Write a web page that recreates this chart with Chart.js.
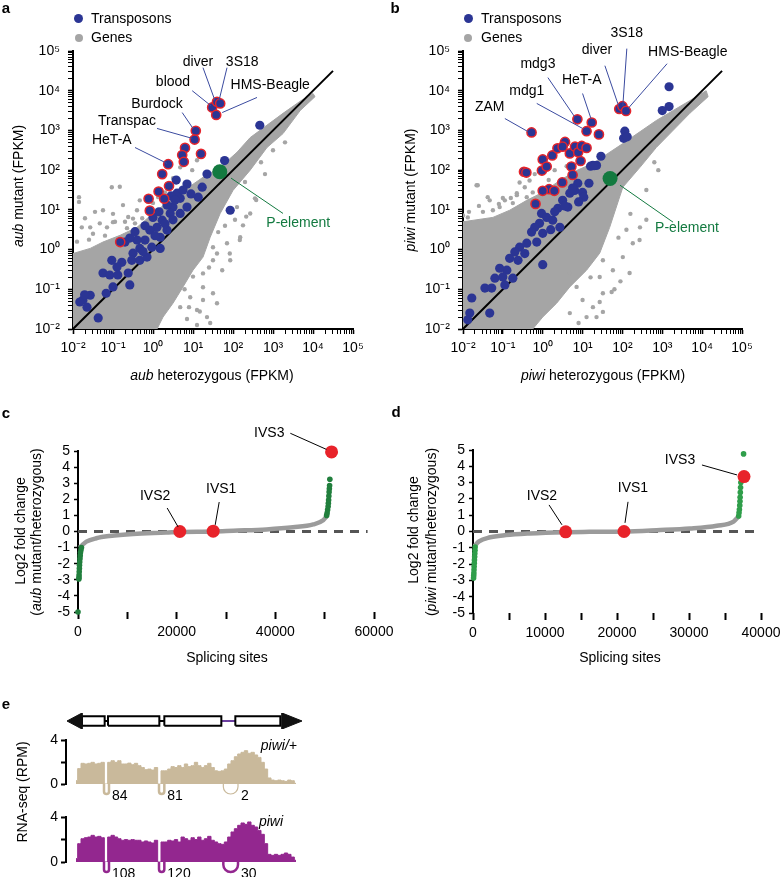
<!DOCTYPE html>
<html>
<head>
<meta charset="utf-8">
<script src="https://cdn.jsdelivr.net/npm/chart.js@4.4.1/dist/chart.umd.min.js"></script>
<style>
  body { margin: 0; width: 781px; height: 877px; position: relative; overflow: hidden; background: #fff;
         font-family: "Liberation Sans", Arial, Helvetica, sans-serif; }
  canvas { position: absolute; }
  .t { position: absolute; font-size: 14px; line-height: 16px; white-space: nowrap; color: #000; transform: translate(-50%, -50%); }
  .v { transform: translate(-50%, -50%) rotate(-90deg); }
  .l { transform: translate(0, -50%); }
  .r { transform: translate(-100%, -50%); }
  .p { font-weight: bold; font-size: 15px; }
  .dot { position: absolute; border-radius: 50%; }
</style>
</head>
<body>
<canvas id="ca" width="390" height="400" style="left:0;top:0"></canvas>
<canvas id="cb" width="391" height="400" style="left:390px;top:0"></canvas>
<canvas id="cc" width="400" height="230" style="left:0;top:420px"></canvas>
<canvas id="cd" width="400" height="230" style="left:390px;top:420px"></canvas>
<canvas id="ge" width="320" height="30" style="left:0;top:706px"></canvas>
<canvas id="t1" width="320" height="82" style="left:0;top:728px"></canvas>
<canvas id="t2" width="320" height="72" style="left:0;top:805px"></canvas>

<!-- panel letters -->
<div class="t p" style="left:6px;top:8px">a</div>
<div class="t p" style="left:395px;top:8px">b</div>
<div class="t p" style="left:6px;top:413px">c</div>
<div class="t p" style="left:396px;top:412px">d</div>
<div class="t p" style="left:6px;top:704px">e</div>

<!-- legends -->
<div class="dot" style="left:74px;top:14px;width:9px;height:9px;background:#2b3594"></div>
<div class="t l" style="left:91px;top:18px">Transposons</div>
<div class="dot" style="left:74.5px;top:33.5px;width:8px;height:8px;background:#a5a5a5"></div>
<div class="t l" style="left:91px;top:37px">Genes</div>
<div class="dot" style="left:463.5px;top:14px;width:9px;height:9px;background:#2b3594"></div>
<div class="t l" style="left:481px;top:18px">Transposons</div>
<div class="dot" style="left:464px;top:33.5px;width:8px;height:8px;background:#a5a5a5"></div>
<div class="t l" style="left:481px;top:37px">Genes</div>

<!-- axis titles -->
<div class="t" style="left:212px;top:375px"><i>aub</i> heterozygous (FPKM)</div>
<div class="t" style="left:603px;top:375px"><i>piwi</i> heterozygous (FPKM)</div>
<div class="t v" style="left:18px;top:186px"><i>aub</i> mutant (FPKM)</div>
<div class="t v" style="left:410px;top:190px"><i>piwi</i> mutant (FPKM)</div>
<div class="t" style="left:227px;top:657px">Splicing sites</div>
<div class="t" style="left:620px;top:657px">Splicing sites</div>
<div class="t v" style="left:20px;top:531px">Log2 fold change</div>
<div class="t v" style="left:36px;top:532px">(<i>aub</i> mutant/heterozygous)</div>
<div class="t v" style="left:413px;top:530px">Log2 fold change</div>
<div class="t v" style="left:431px;top:532px">(<i>piwi</i> mutant/heterozygous)</div>
<div class="t v" style="left:22px;top:792px">RNA-seq (RPM)</div>
<div class="t r" style="left:297px;top:745px"><i>piwi/+</i></div>
<div class="t r" style="left:283px;top:821px"><i>piwi</i></div>

<script>
// ---------- panels a / b : [log10 heterozygous, log10 mutant] FPKM ----------
const aubGeneCloud = [[-2,-2],[-2,-0.1],[-1.57,0.03],[-1.25,0.19],[-0.82,0.36],[-0.4,0.56],[0,0.91],[0.43,1.24],
  [0.85,1.54],[1.25,1.82],[1.68,2.07],[2.1,2.45],[2.43,2.82],[3.25,3.43],[3.7,3.75],[4.0,3.93],[4.05,3.85],
  [3.68,3.5],[3.25,2.92],[2.85,2.57],[2.43,2.0],[2.0,1.49],[1.68,0.91],[1.43,0.31],[1.25,-0.19],[1.0,-0.52],
  [0.75,-0.94],[0.5,-1.35],[0.25,-1.7],[0.1,-2]];
const aubGeneSpots = [[-1.85,1.32],[-1.85,1.2],[-1.03,1.57],[-0.83,1.58],[-1.45,0.95],[-1.25,0.99],[-1.7,0.79],
  [-0.75,1.12],[-0.62,0.82],[-0.4,0.99],[-0.15,1.24],[-0.33,1.24],[0.68,2.07],[0.98,2.0],[1.1,2.25],[-1.78,0.56],
  [-1.15,0.56],[-0.95,0.7],[-0.5,0.78],[0.68,-1.45],[0.93,-1.2],[1.25,-0.95],[1.35,-1.7],[1.5,0.06],[1.63,0.44],
  [1.93,-0.27],[2.25,0.61],[2.43,0.91],[2.55,1.29],[2.1,1.07],[2.3,1.7],[2.0,1.58],[1.0,-0.68],[0.79,-1.0],
  [1.17,-1.56],[1.5,-1.1],[1.92,-0.1],[2.17,0.24],[2.33,0.83],[2.58,1.25],[2.7,2.2],[3.0,2.5],[-1.5,0.4],
  [-1.0,0.9],[0.2,1.5],[0.5,1.8],[-1.57,0.56],[-1.33,0.66],[-1.0,0.69],[-0.65,0.54],[-0.45,0.66],[-0.27,0.79],
  [0.0,1.17],[0.13,1.32],[0.3,1.44],[0.43,1.57],[1.5,-0.27],[1.73,-0.52],[1.25,-1.27],[1.1,-1.52],[1.43,-1.85],
  [1.6,-0.1],[1.85,0.16],[2.18,0.31],[1.25,-0.6],[1.4,-0.45],[0.9,-1.45],[2.05,0.75],[1.8,0.6],[-1.9,0.2],
  [-1.6,0.25],[-1.2,0.35],[-0.7,0.7],[2.8,1.9],[3.3,2.7],[1.6,-1.35],[1.1,-1.9],[0.85,-1.75]];
const aubTransposons = [[2.67,3.13],[1.79,2.24],[1.35,1.9],[1.93,0.99],[0.58,1.75],[0.85,1.65],[1.23,1.57],
  [1.13,1.32],[0.68,1.29],[0.85,1.07],[0.5,1.07],[0.43,0.91],[0.68,0.91],[0.35,1.12],[0.6,1.42],[0.95,1.4],
  [0.45,1.35],[0.75,1.5],[0.0,0.81],[0.23,0.74],[0.1,0.56],[-0.08,0.49],[0.35,0.49],[0.18,0.31],[-0.2,0.24],
  [-0.4,0.24],[-0.58,0.29],[-0.7,0.19],[-0.33,0.03],[-0.03,0.06],[0.18,0.03],[-0.5,-0.09],[-0.53,-0.27],
  [-0.33,-0.27],[-0.15,-0.19],[-1.03,-0.27],[-0.78,-0.32],[-0.9,-0.44],[-1.25,-0.59],[-1.08,-0.64],
  [-0.88,-0.64],[-0.62,-0.59],[-1.0,-0.94],[-0.58,-0.89],[-1.57,-1.15],[-1.75,-1.27],[-1.65,-1.45],
  [-1.83,-1.32],[-1.37,-1.72],[-1.71,-1.14],[-1.17,-1.1],[0.3,0.65],[0.5,0.75],[-0.2,0.6],[0.05,0.35],
  [-0.25,-0.05],[-0.45,0.45],[0.55,1.25],[0.15,0.95]];
const aubTransposonsUp = [[1.48,3.58],[1.6,3.72],[1.68,3.68],[1.58,3.39],[1.07,2.99],[1.04,2.77],[0.8,2.56],
  [0.73,2.38],[0.77,2.21],[1.2,2.41],[0.38,2.15],[0.23,1.9],[0.4,1.6],[0.14,1.46],[0.28,1.28],[-0.11,1.28],
  [-0.08,0.98],[-0.82,0.19]];
const aubPElement = [[1.67,1.96]];

const piwiGeneCloud = [[-2,-2],[-2,0.7],[-1.25,0.81],[-0.83,0.99],[-0.4,1.24],[0,1.44],[0.43,1.74],[0.85,1.99],
  [1.26,2.17],[2.01,2.67],[2.85,3.25],[3.69,3.75],[4.1,4.0],[4.15,3.85],[3.69,3.43],[2.85,2.57],[2.44,2.07],
  [2.01,1.57],[1.68,0.56],[1.43,-0.09],[1.1,-0.52],[0.68,-0.94],[0.35,-1.35],[0,-1.7],[-0.25,-2]];
const piwiGeneSpots = [[-1.63,1.62],[-1.88,0.81],[-1.85,0.95],[-1.33,1.24],[-1.1,1.15],[-0.65,1.42],[-0.45,1.57],
  [-0.33,1.74],[-1.0,1.3],[-0.8,1.3],[-1.6,1.1],[0.68,-0.59],[0.85,-0.94],[1.35,-1.7],[1.43,-1.32],[2.18,-0.59],
  [2.43,0.24],[1.51,-0.27],[1.0,-1.27],[0.68,-1.6],[1.9,0.3],[2.2,0.9],[2.6,1.5],[1.8,-1.0],[0.3,2.0],[0.6,2.1],
  [2.3,2.3],[2.8,2.2],[1.2,-0.7],[-0.2,1.9],[-1.66,1.62],[-1.38,1.32],[-1.25,0.99],[-1.08,1.07],[-0.95,1.24],
  [-0.75,1.17],[-0.65,1.37],[-0.4,1.32],[-0.25,1.44],[-0.58,1.69],[-2.0,0.86],[1.26,-1.45],[1.1,-1.7],
  [1.51,-1.1],[1.76,-0.52],[2.01,-0.19],[2.26,0.16],[2.44,0.56],[2.6,0.75],[1.43,-0.69],[1.73,-1.07],
  [1.51,-1.57],[0.9,-1.85],[1.95,-0.8],[2.1,0.5],[-1.5,0.95],[0.15,1.75],[2.9,2.0]];
const piwiTransposons = [[1.26,2.12],[1.35,2.12],[0.88,1.67],[0.8,1.49],[0.68,1.42],[1.0,1.44],[1.03,1.32],
  [0.5,1.24],[0.63,1.07],[0.38,1.04],[-0.03,0.91],[0.1,0.81],[0.25,0.74],[0.43,0.56],[-0.08,0.66],[-0.2,0.56],
  [-0.28,0.44],[0.0,0.41],[0.0,-0.38],[-0.58,0.06],[-0.4,0.16],[-0.15,0.19],[-0.7,-0.06],[-0.83,-0.22],
  [-0.62,-0.27],[-0.9,-0.52],[-1.08,-0.47],[-1.2,-0.72],[-1.0,-0.69],[-0.75,-0.72],[-1.45,-0.97],[-1.28,-0.97],
  [-0.95,-0.89],[-1.78,-1.22],[-1.83,-1.6],[-1.33,-1.6],[-1.88,-1.77],[1.2,2.1],[1.29,2.11],[1.46,2.35],
  [2.06,2.98],[2.03,2.8],[2.12,2.84],[3.17,4.1],[3.17,3.6],[3.0,3.5],[1.16,1.67],[0.3,0.95],[0.55,1.1],
  [0.2,0.5],[0.9,1.2],[-0.45,-0.1],[0.75,1.55]];
const piwiTransposonsUp = [[-0.28,2.95],[-0.47,1.96],[-0.41,1.94],[-0.18,1.15],[0,2.27],[-0.02,1.99],[0.1,2.09],
  [0.24,2.37],[0.37,2.55],[0.56,2.71],[0.5,2.59],[0.68,2.42],[0.81,2.59],[0.89,2.45],[0.98,2.61],[1.1,2.56],
  [0.95,2.23],[0.72,2.09],[0.75,1.88],[0.49,1.69],[0.16,1.52],[0.29,1.48],[0.0,1.48],[0.87,3.28],[1.23,3.2],
  [1.1,2.98],[1.41,2.9],[1.92,3.54],[2.0,3.61],[2.09,3.49]];
const piwiPElement = [[1.69,1.79]];

const diagonal = [[-2,-2],[4.5,4.5]];
const logTickExp = [-2, -1, 0, 1, 2, 3, 4, 5];
const logTickLabels = ['10⁻²', '10⁻¹', '10⁰', '10¹', '10²', '10³', '10⁴', '10⁵'];

// ---------- panels c / d : sorted splice-site log2 fold change ----------
const aubSortedSite = [300, 1000, 1700, 3700, 6400, 11200, 17900, 20600, 27400, 31500, 38200, 43600, 47700, 49700, 50400];
const aubSortedLog2 = [-1.0, -0.8, -0.63, -0.42, -0.28, -0.15, -0.07, -0.03, 0.0, 0.05, 0.13, 0.26, 0.44, 0.7, 0.95];
const aubDownSite = [700, 600, 500, 450, 400, 350, 300, 280, 250, 220, 200, 180, 0];
const aubDownLog2 = [-1.0, -1.15, -1.3, -1.5, -1.7, -1.9, -2.1, -2.3, -2.5, -2.7, -2.85, -2.95, -5.0];
const aubUpSite = [50400, 50500, 50600, 50700, 50750, 50800, 50850, 50900, 50950, 51000, 51050];
const aubUpLog2 = [1.0, 1.15, 1.35, 1.55, 1.75, 1.95, 2.2, 2.45, 2.65, 2.85, 3.25];
const aubIvsSite = [20640, 27400, 51400];
const aubIvsLog2 = [0.0, 0.02, 4.94];

const piwiSortedSite = [140, 840, 2230, 4560, 7810, 12790, 16190, 20840, 25490, 30140, 33860, 36190, 36880];
const piwiSortedLog2 = [-0.92, -0.61, -0.37, -0.22, -0.12, -0.04, -0.02, 0.0, 0.08, 0.18, 0.35, 0.61, 0.92];
const piwiDownSite = [300, 280, 250, 230, 200, 180, 160, 140, 120, 100, 80];
const piwiDownLog2 = [-0.95, -1.15, -1.35, -1.55, -1.75, -1.95, -2.15, -2.35, -2.55, -2.7, -2.85];
const piwiUpSite = [36900, 36950, 37000, 37050, 37080, 37100, 37130, 37160, 37200, 37580];
const piwiUpLog2 = [0.95, 1.15, 1.35, 1.6, 1.85, 2.1, 2.4, 2.7, 3.0, 4.76];
const piwiIvsSite = [12870, 20970, 37640];
const piwiIvsLog2 = [-0.02, 0.0, 3.37];

const aubSiteTicks = [0, 10000, 20000, 30000, 40000, 50000, 60000];
const aubSiteLabels = ['0', '', '20000', '', '40000', '', '60000'];
const piwiSiteTicks = [0, 5000, 10000, 15000, 20000, 25000, 30000, 35000, 40000];
const piwiSiteLabels = ['0', '', '10000', '', '20000', '', '30000', '', '40000'];
const foldTicks = [-5, -4, -3, -2, -1, 0, 1, 2, 3, 4, 5];

// ---------- panel e : coverage (RPM) per bin along the locus ----------
const piwiHetRPM = [0.3, 1.4, 1.88, 1.82, 1.88, 1.97, 1.82, 1.88, 1.97, 0, 1.97, 2.12, 1.97, 2.12, 1.82, 1.82, 1.9,
  1.76, 1.88, 1.67, 1.5, 1.3, 1.36, 1.27, 1.5, 0, 1.2, 1.2, 1.36, 1.58, 1.5, 1.67, 1.5, 1.82, 1.58, 1.67, 1.97, 1.67,
  1.5, 1.67, 1.88, 1.5, 1.2, 1.15, 1.2, 1.36, 1.82, 2.12, 2.48, 2.73, 2.88, 3.03, 2.79, 2.88, 2.64, 2.42, 1.97,
  1.36, 0.55, 0.36, 0.3, 0.36, 0.3, 0.24, 0.36, 0.3, 0.06];
const piwiMutRPM = [0.3, 1.63, 2.07, 2.16, 2.22, 2.37, 2.22, 2.28, 2.16, 0, 2.22, 2.37, 2.22, 2.07, 1.93, 1.99, 1.93,
  1.99, 1.93, 1.93, 1.78, 1.87, 1.78, 1.69, 1.93, 0, 1.78, 1.78, 1.93, 1.87, 1.99, 1.78, 2.22, 2.07, 1.93, 2.16, 1.99,
  2.22, 1.93, 2.07, 2.28, 1.93, 1.78, 1.63, 1.57, 1.78, 2.22, 2.67, 2.96, 3.26, 3.47, 3.35, 3.56, 3.26, 3.11, 2.81,
  2.46, 1.63, 0.68, 0.59, 0.68, 0.59, 0.68, 0.8, 0.68, 0.44, 0.15];
const rpmTicks = [0, 2, 4];
const rpmTickLabels = ['0', '', '4'];
const junctionFrom = [8.4, 24.9, 44.2];
const junctionTo = [9.9, 26.5, 48.6];
const piwiHetReads = [84, 81, 2];
const piwiMutReads = [108, 120, 30];
const exonFrom = [1.8, 9.6, 26.5, 47.8];
const exonTo = [8.6, 25.0, 43.6, 61.3];
const geneFrom = -2.7, geneTo = 67.8;

// ---------- styles ----------
const BLUE = '#2b3594', RED = '#e5242b', GREEN = '#137a40', GRAY = '#a5a5a5';
const FONT = '"Liberation Sans", Arial, Helvetica, sans-serif';
Chart.defaults.font.family = FONT;
Chart.defaults.font.size = 14;
Chart.defaults.color = '#000';

const pts = list => list.map(([lx, ly]) => ({ x: 10 ** lx, y: 10 ** ly })); // log10 pairs -> values
const xy = (xs, ys) => xs.map((x, i) => ({ x, y: ys[i] }));
const isMajor = v => Math.abs(Math.log10(v) - Math.round(Math.log10(v))) < 1e-9;
const logTickValues = [];
logTickExp.slice(0, -1).forEach(e => { for (let k = 1; k <= 9; k++) logTickValues.push(k * 10 ** e); });
logTickValues.push(10 ** logTickExp[logTickExp.length - 1]);

// labels + leader lines, placed through the chart scales
function notes(items, lineColor) {
  return {
    id: 'notes',
    afterDatasetsDraw(chart) {
      const { ctx, scales: { x, y } } = chart;
      ctx.save();
      ctx.font = '14px ' + FONT;
      ctx.textAlign = 'center';
      ctx.textBaseline = 'middle';
      for (const n of items) {
        ctx.strokeStyle = n.color || lineColor;
        ctx.lineWidth = 1;
        ctx.beginPath();
        ctx.moveTo(x.getPixelForValue(n.from[0]), y.getPixelForValue(n.from[1]));
        ctx.lineTo(x.getPixelForValue(n.to[0]), y.getPixelForValue(n.to[1]));
        ctx.stroke();
        ctx.fillStyle = n.color || '#000';
        ctx.fillText(n.text, x.getPixelForValue(n.at[0]), y.getPixelForValue(n.at[1]));
      }
      ctx.restore();
    }
  };
}
const unlog = n => ({ ...n, at: n.at.map(v => 10 ** v), from: n.from.map(v => 10 ** v), to: n.to.map(v => 10 ** v) });

const logAxis = (isX, size) => ({
  type: 'logarithmic', min: 0.01, max: 1e5, position: isX ? 'bottom' : 'left',
  afterBuildTicks: s => { s.ticks = logTickValues.map(value => ({ value })); },
  afterFit: s => { if (isX) s.height = size; else s.width = size; },
  ticks: {
    autoSkip: false, maxRotation: 0, minRotation: 0, padding: isX ? 6 : 8,
    callback: v => isMajor(v) ? logTickLabels[logTickExp.indexOf(Math.round(Math.log10(v)))] : ''
  },
  grid: { drawOnChartArea: false, tickLength: 5, tickColor: '#000', tickWidth: c => (c.tick && isMajor(c.tick.value)) ? 1.6 : 1 },
  border: { color: '#000', width: 2 }
});

function expressionPanel(id, cloud, spots, te, teUp, pel, items, rightPad) {
  new Chart(document.getElementById(id), {
    type: 'scatter',
    data: {
      datasets: [
        { data: pts(pel), pointRadius: 7.5, backgroundColor: GREEN, borderWidth: 0, order: 0 },
        { data: pts(teUp), pointRadius: 4.6, backgroundColor: BLUE, borderColor: RED, borderWidth: 1.5, order: 1 },
        { data: pts(te), pointRadius: 4.6, backgroundColor: BLUE, borderWidth: 0, order: 2 },
        { data: pts(diagonal), showLine: true, borderColor: '#000', borderWidth: 2, pointRadius: 0, order: 3 },
        { data: pts(spots), pointRadius: 2.2, backgroundColor: GRAY, borderWidth: 0, order: 4 },
        { data: pts(cloud), showLine: true, fill: 'shape', backgroundColor: GRAY, borderColor: GRAY,
          borderWidth: 1, pointRadius: 0, order: 5 }
      ]
    },
    options: {
      responsive: false, animation: false, events: [], devicePixelRatio: 1,
      layout: { padding: { left: 0, top: 51, right: rightPad, bottom: 0 } },
      plugins: { legend: { display: false }, tooltip: { enabled: false } },
      scales: { x: logAxis(true, 71), y: logAxis(false, 73) }
    },
    plugins: [notes(items.map(unlog), '#3a4a9f')]
  });
}

expressionPanel('ca', aubGeneCloud, aubGeneSpots, aubTransposons, aubTransposonsUp, aubPElement, [
  { text: 'diver', at: [1.125, 4.71], from: [1.25, 4.58], to: [1.55, 3.75] },
  { text: '3S18', at: [2.23, 4.71], from: [1.85, 4.58], to: [1.65, 3.75] },
  { text: 'blood', at: [0.5, 4.21], from: [0.98, 4.0], to: [1.45, 3.62] },
  { text: 'HMS-Beagle', at: [2.93, 4.13], from: [2.6, 3.83], to: [1.73, 3.45] },
  { text: 'Burdock', at: [0.1, 3.65], from: [0.73, 3.45], to: [1.0, 3.05] },
  { text: 'Transpac', at: [-0.65, 3.23], from: [0.1, 3.05], to: [0.98, 2.8] },
  { text: 'HeT-A', at: [-1.03, 2.75], from: [-0.45, 2.57], to: [0.35, 2.17] },
  { text: 'P-element', at: [3.63, 0.66], from: [1.95, 1.8], to: [3.25, 0.91], color: GREEN }
], 37);

expressionPanel('cb', piwiGeneCloud, piwiGeneSpots, piwiTransposons, piwiTransposonsUp, piwiPElement, [
  { text: '3S18', at: [2.11, 5.44], from: [2.11, 5.06], to: [2.01, 3.62] },
  { text: 'diver', at: [1.36, 5.01], from: [1.56, 4.63], to: [1.91, 3.6] },
  { text: 'HMS-Beagle', at: [3.64, 4.96], from: [3.12, 4.68], to: [2.14, 3.55] },
  { text: 'mdg3', at: [-0.12, 4.66], from: [0.13, 4.33], to: [0.81, 3.33] },
  { text: 'HeT-A', at: [0.98, 4.26], from: [1.0, 3.93], to: [1.21, 3.3] },
  { text: 'mdg1', at: [-0.4, 4.0], from: [-0.15, 3.68], to: [1.0, 3.05] },
  { text: 'ZAM', at: [-1.33, 3.58], from: [-0.95, 3.3], to: [-0.37, 2.97] },
  { text: 'P-element', at: [3.62, 0.54], from: [1.94, 1.62], to: [3.27, 0.69], color: GREEN }
], 39);

function splicePanel(id, o) {
  new Chart(document.getElementById(id), {
    type: 'scatter',
    data: {
      datasets: [
        { data: xy(o.ivsX, o.ivsY), pointRadius: 6.5, backgroundColor: '#e8232a', borderWidth: 0, order: 0, clip: false },
        { data: xy(o.upX, o.upY), pointRadius: 2.8, backgroundColor: o.green, borderWidth: 0, order: 1, clip: false },
        { data: xy(o.downX, o.downY), pointRadius: 2.8, backgroundColor: o.green, borderWidth: 0, order: 1, clip: false },
        { data: xy(o.curveX, o.curveY), showLine: true, borderColor: '#9b9b9b', borderWidth: 4.5, pointRadius: 0,
          cubicInterpolationMode: 'monotone', order: 2 },
        { data: [{ x: 0, y: 0 }, { x: o.zeroEnd, y: 0 }], showLine: true, borderColor: '#555', borderWidth: 3,
          borderDash: [9, 7], pointRadius: 0, order: 3 }
      ]
    },
    options: {
      responsive: false, animation: false, events: [], devicePixelRatio: 1,
      layout: { padding: { left: 0, top: o.top, right: o.right, bottom: 0 } },
      plugins: { legend: { display: false }, tooltip: { enabled: false } },
      scales: {
        x: {
          type: 'linear', min: 0, max: o.ticks[o.ticks.length - 1],
          afterBuildTicks: s => { s.ticks = o.ticks.map(value => ({ value })); },
          afterFit: s => { s.height = o.xh; },
          ticks: { autoSkip: false, maxRotation: 0, padding: 5, callback: (v, i) => o.labels[i] },
          grid: { drawOnChartArea: false, tickLength: 7, tickWidth: 2, tickColor: '#000' },
          border: { display: false }
        },
        y: {
          type: 'linear', min: -5, max: 5,
          afterBuildTicks: s => { s.ticks = foldTicks.map(value => ({ value })); },
          afterFit: s => { s.width = o.yw; },
          ticks: { autoSkip: false, padding: 4, callback: v => String(v) },
          grid: { drawOnChartArea: false, tickLength: 4, tickWidth: 1.5, tickColor: '#000' },
          border: { color: '#000', width: 2 }
        }
      }
    },
    plugins: [notes(o.notes, '#000')]
  });
}

splicePanel('cc', {
  ivsX: aubIvsSite, ivsY: aubIvsLog2, upX: aubUpSite, upY: aubUpLog2, downX: aubDownSite, downY: aubDownLog2,
  curveX: aubSortedSite, curveY: aubSortedLog2, zeroEnd: 58700, green: '#217f3d',
  ticks: aubSiteTicks, labels: aubSiteLabels, top: 31, right: 26, xh: 38, yw: 78,
  notes: [
    { text: 'IVS3', at: [38770, 6.1], from: [43040, 6.1], to: [50350, 5.1] },
    { text: 'IVS2', at: [15630, 2.2], from: [18070, 1.46], to: [20300, 0.28] },
    { text: 'IVS1', at: [29030, 2.63], from: [28620, 1.83], to: [27810, 0.41] }
  ]
});

splicePanel('cd', {
  ivsX: piwiIvsSite, ivsY: piwiIvsLog2, upX: piwiUpSite, upY: piwiUpLog2, downX: piwiDownSite, downY: piwiDownLog2,
  curveX: piwiSortedSite, curveY: piwiSortedLog2, zeroEnd: 40100, green: '#2f9e4a',
  ticks: piwiSiteTicks, labels: piwiSiteLabels, top: 30, right: 29, xh: 37, yw: 83,
  notes: [
    { text: 'IVS3', at: [28750, 4.39], from: [31800, 4.08], to: [36670, 3.47] },
    { text: 'IVS2', at: [9580, 2.18], from: [10560, 1.63], to: [12360, 0.41] },
    { text: 'IVS1', at: [22220, 2.67], from: [21530, 1.82], to: [21110, 0.53] }
  ]
});

// ---------- panel e ----------
const locusX = { type: 'linear', min: -3, max: 69, display: false };

// gene model: arrowheads, exon boxes, introns (third intron in purple)
const geneSets = [];
exonFrom.forEach((s, i) => geneSets.push({
  data: [{ x: s, y: 0.2 }, { x: exonTo[i], y: 0.2 }, { x: exonTo[i], y: 0.8 }, { x: s, y: 0.8 }, { x: s, y: 0.2 }],
  showLine: true, fill: 'shape', backgroundColor: '#fff', borderColor: '#000', borderWidth: 2, pointRadius: 0, order: 1
}));
for (let i = 0; i < exonFrom.length - 1; i++) geneSets.push({
  data: [{ x: exonTo[i], y: 0.5 }, { x: exonFrom[i + 1], y: 0.5 }], showLine: true, pointRadius: 0,
  borderColor: i === 2 ? '#6b3fa0' : '#000', borderWidth: 2, order: 2
});
geneSets.push({
  data: [{ x: geneFrom, y: 0.5 }, { x: exonFrom[0], y: 1 }, { x: exonFrom[0], y: 0 }, { x: geneFrom, y: 0.5 }],
  showLine: true, fill: 'shape', backgroundColor: '#111', borderColor: '#111', borderWidth: 1, pointRadius: 0, order: 0
});
geneSets.push({
  data: [{ x: geneTo, y: 0.5 }, { x: exonTo[3] + 0.5, y: 1 }, { x: exonTo[3] + 0.5, y: 0 }, { x: geneTo, y: 0.5 }],
  showLine: true, fill: 'shape', backgroundColor: '#111', borderColor: '#111', borderWidth: 1, pointRadius: 0, order: 0
});
new Chart(document.getElementById('ge'), {
  type: 'scatter',
  data: { datasets: geneSets },
  options: {
    responsive: false, animation: false, events: [], devicePixelRatio: 1,
    layout: { padding: { left: 66, right: 14, top: 7, bottom: 7 } },
    plugins: { legend: { display: false }, tooltip: { enabled: false } },
    scales: { x: locusX, y: { type: 'linear', min: 0, max: 1, display: false } }
  }
});

// splice junction arcs + read counts under a coverage track
function junctions(reads, color) {
  return {
    id: 'junctions',
    afterDatasetsDraw(chart) {
      const { ctx, scales: { x, y } } = chart;
      const base = y.getPixelForValue(0);
      ctx.save();
      ctx.strokeStyle = color;
      ctx.fillStyle = '#000';
      ctx.font = '14px ' + FONT;
      ctx.textAlign = 'left';
      ctx.textBaseline = 'middle';
      junctionFrom.forEach((f, i) => {
        const xl = x.getPixelForValue(f), xr = x.getPixelForValue(junctionTo[i]);
        const r = (xr - xl) / 2, depth = 10;
        ctx.lineWidth = reads[i] < 10 ? 1.2 : 2.5;
        ctx.beginPath();
        ctx.moveTo(xl, base);
        ctx.lineTo(xl, base + depth - r);
        ctx.arc(xl + r, base + depth - r, r, Math.PI, 0, true);
        ctx.lineTo(xr, base);
        ctx.stroke();
        ctx.fillText(String(reads[i]), xr + 3, base + 12);
      });
      ctx.restore();
    }
  };
}

function trackPanel(id, values, color, reads, pad) {
  new Chart(document.getElementById(id), {
    type: 'line',
    data: {
      datasets: [{
        data: values.map((v, i) => ({ x: i, y: v })), stepped: 'middle', fill: 'origin',
        backgroundColor: color, borderColor: color, borderWidth: 1, pointRadius: 0
      }]
    },
    options: {
      responsive: false, animation: false, events: [], devicePixelRatio: 1,
      layout: { padding: { left: 0, right: 14, top: pad[0], bottom: pad[1] } },
      plugins: { legend: { display: false }, tooltip: { enabled: false } },
      scales: {
        x: locusX,
        y: {
          type: 'linear', min: 0, max: 4,
          afterBuildTicks: s => { s.ticks = rpmTicks.map(value => ({ value })); },
          afterFit: s => { s.width = 66; },
          ticks: { padding: 3, callback: (v, i) => rpmTickLabels[i] },
          grid: { drawOnChartArea: false, tickLength: 5, tickWidth: 2, tickColor: '#000' },
          border: { color: '#000', width: 2 }
        }
      }
    },
    plugins: [junctions(reads, color)]
  });
}

trackPanel('t1', piwiHetRPM, '#c9b99b', piwiHetReads, [12, 26]);
trackPanel('t2', piwiMutRPM, '#93278f', piwiMutReads, [12, 15]);
</script>
</body>
</html>
